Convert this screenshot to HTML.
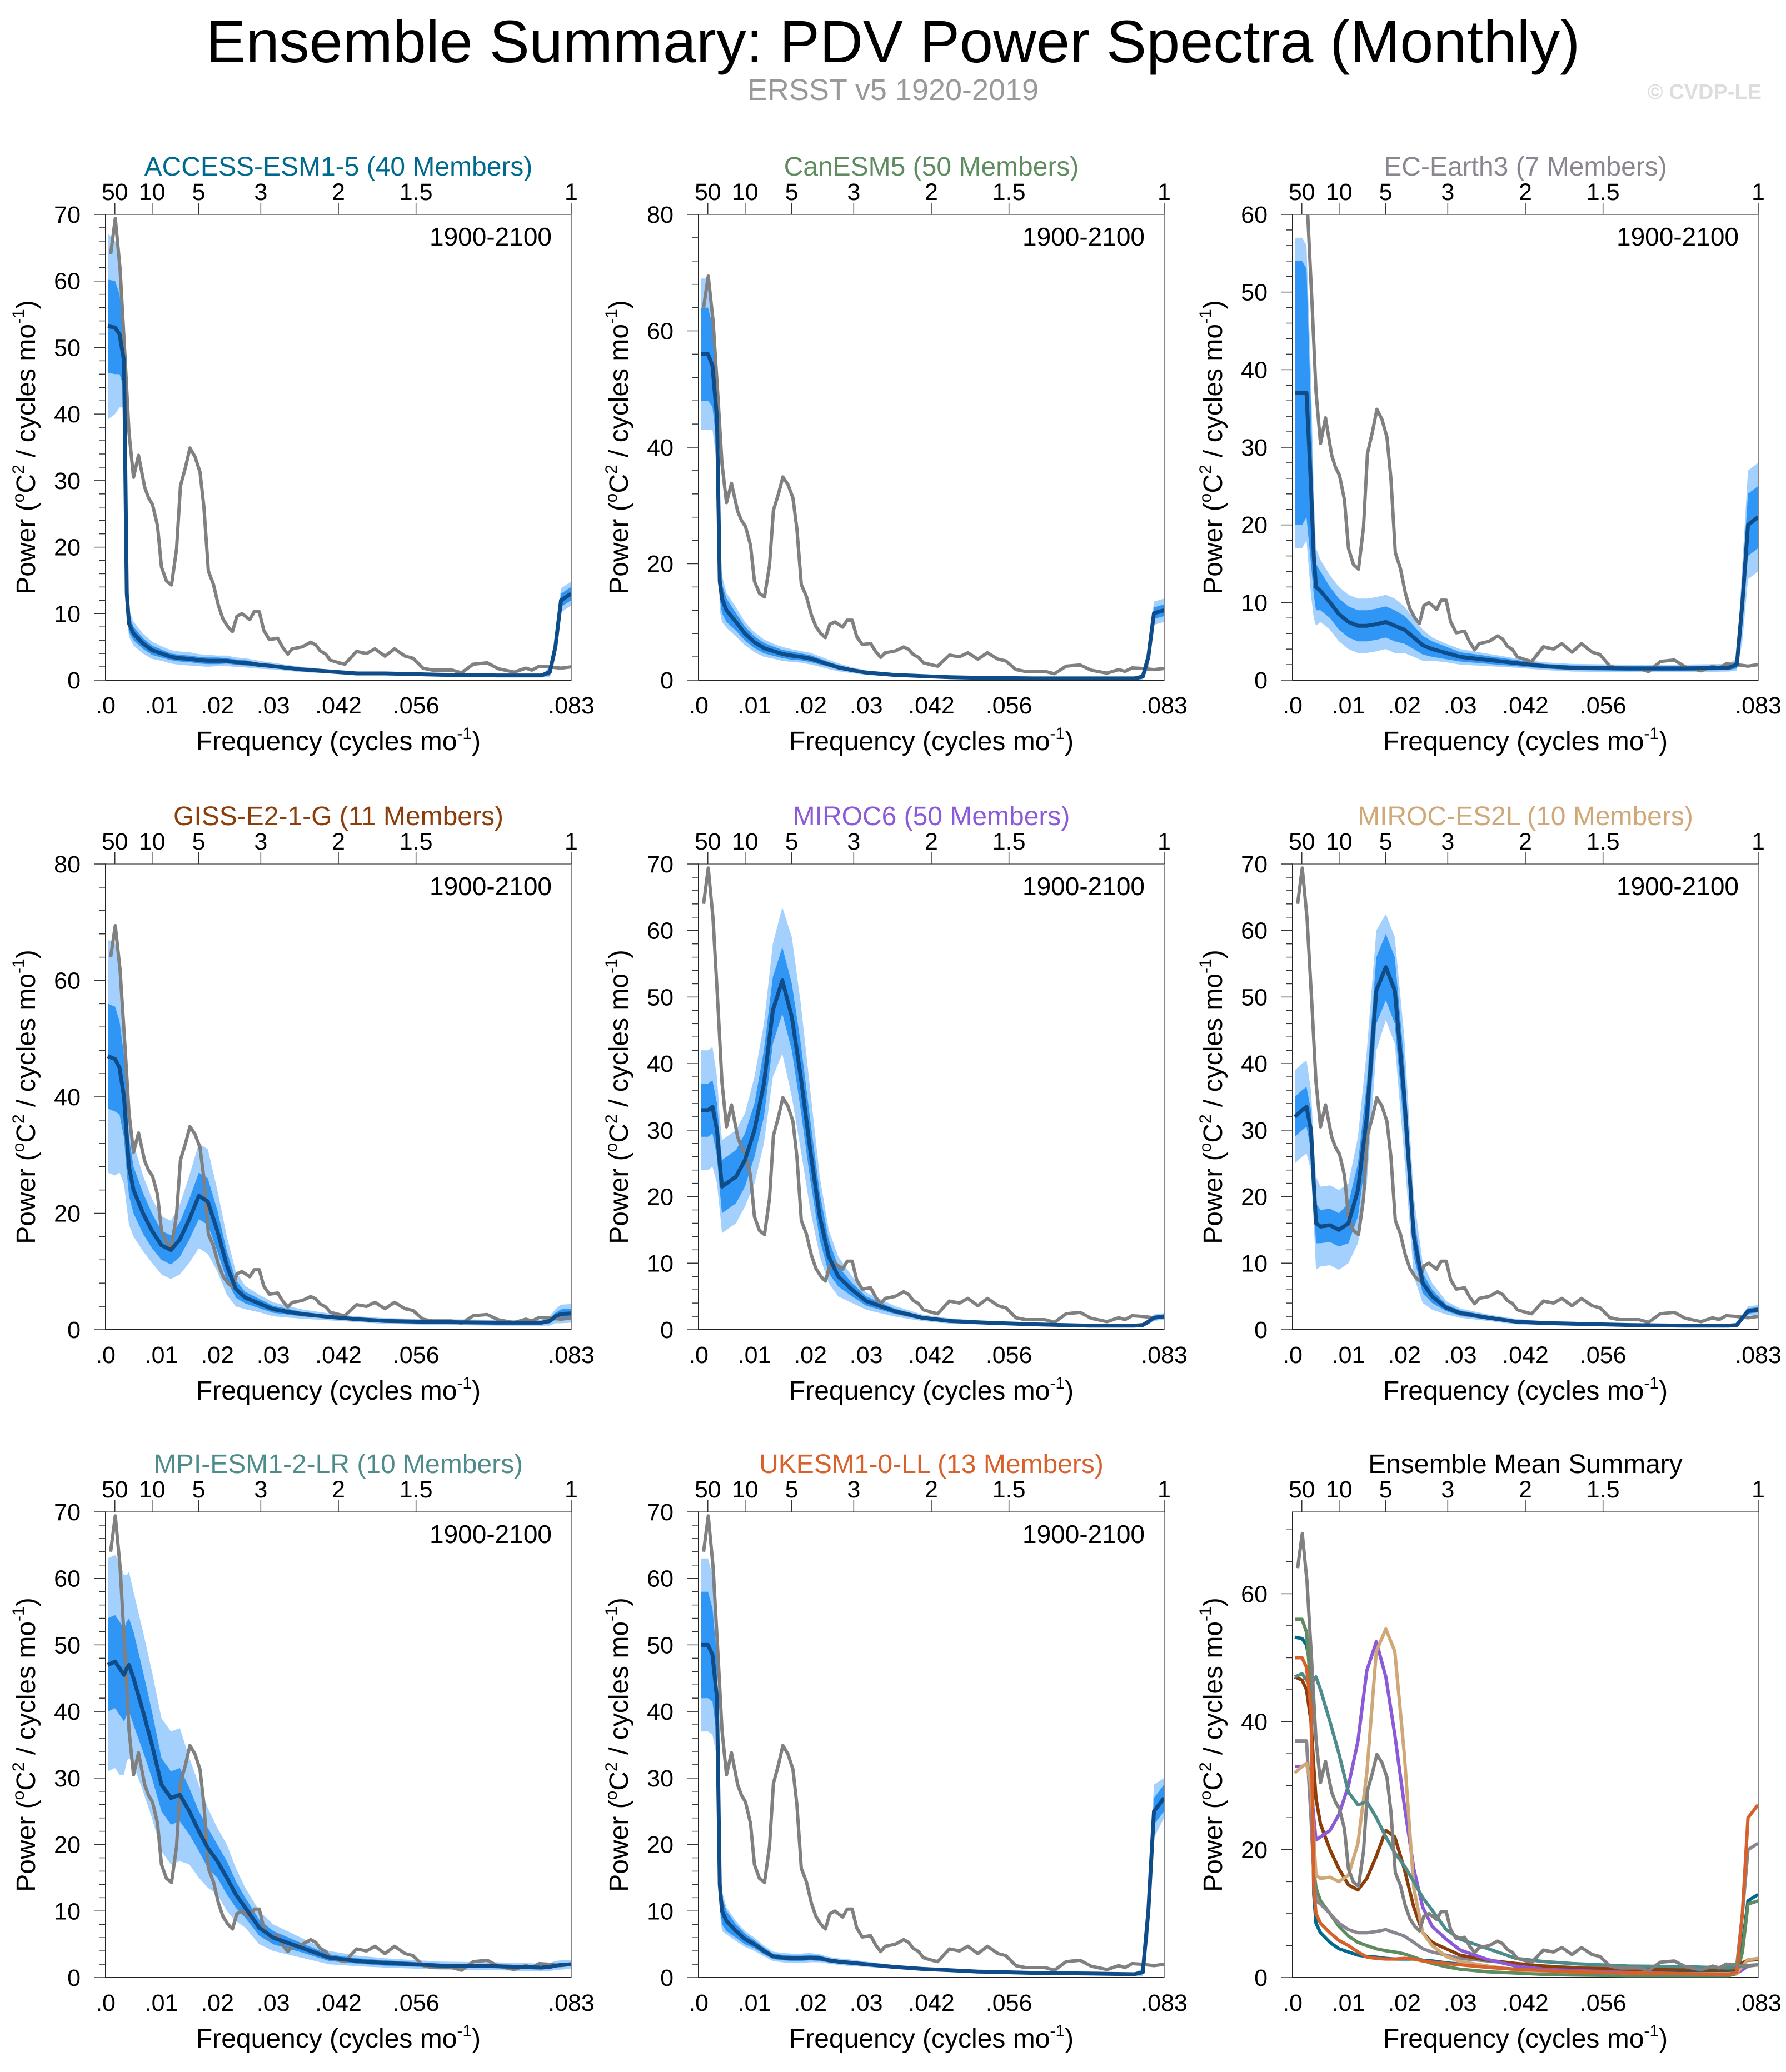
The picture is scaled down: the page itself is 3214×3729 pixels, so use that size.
<!DOCTYPE html>
<html><head><meta charset="utf-8"><style>
html,body{margin:0;padding:0;background:#fff;}
svg{display:block;font-family:"Liberation Sans",sans-serif;}
</style></head><body>
<svg id="chart" width="3214" height="3729" viewBox="0 0 3214 3729" xmlns="http://www.w3.org/2000/svg">
<rect width="3214" height="3729" fill="#fff"/>
<text x="1607" y="112" text-anchor="middle" font-size="108" fill="#000">Ensemble Summary: PDV Power Spectra (Monthly)</text>
<text x="1607" y="180" text-anchor="middle" font-size="54" fill="#999">ERSST v5 1920-2019</text>
<text x="3170" y="178" text-anchor="end" font-size="38" font-weight="bold" fill="#ddd">© CVDP-LE</text>
</svg>
<script>
const freqGrid=[0.0004,0.0017,0.0025,0.0033,0.0038,0.0042,0.005,0.0067,0.0083,0.01,0.0117,0.0133,0.015,0.0167,0.0183,0.02,0.0217,0.0233,0.025,0.0275,0.03,0.035,0.04,0.045,0.05,0.06,0.07,0.078,0.0795,0.0805,0.0815,0.0833];
const obsFreq=[0.0009,0.00174,0.0026,0.0035,0.0042,0.005,0.0059,0.007,0.0077,0.0084,0.0093,0.01,0.0109,0.0118,0.0127,0.0134,0.0143,0.0151,0.016,0.0169,0.0176,0.0184,0.0193,0.0202,0.021,0.0219,0.0227,0.0235,0.0244,0.0258,0.0266,0.0275,0.0283,0.0293,0.0308,0.0317,0.0326,0.0334,0.0352,0.0367,0.0376,0.0384,0.0394,0.0402,0.0418,0.0428,0.0449,0.0467,0.0482,0.05,0.0517,0.0536,0.055,0.0568,0.0585,0.062,0.0637,0.0658,0.0683,0.0703,0.0731,0.0752,0.0763,0.0776,0.0794,0.0815,0.0833];
const obsPower=[64,69.4,61.8,48.3,37.2,30.5,33.8,29,27.4,26.4,23.2,17,14.9,14.3,19.7,29.2,32,34.9,33.6,31.3,26,16.4,14.4,11.2,9.2,8,7.3,9.6,10,9.1,10.3,10.3,7.5,6.1,6.3,4.9,3.9,4.7,5,5.7,5.3,4.4,3.9,3,2.6,2.4,4.3,4,4.7,3.6,4.7,3.6,3.3,1.8,1.5,1.5,1.1,2.4,2.6,1.7,1.2,1.8,1.5,2.1,2,1.8,2];

const accessMean=[53.2,53,52,48,13,8.5,7,5.5,4.5,4,3.5,3.3,3.2,3,2.9,2.9,2.9,2.7,2.6,2.3,2.1,1.6,1.3,1.0,1.0,0.8,0.7,0.7,1.2,5,12,13];
const accessDark=[7,7,6,4,2,1.3,1,0.8,0.7,0.6,0.5,0.5,0.5,0.5,0.5,0.5,0.4,0.4,0.4,0.3,0.3,0.3,0.2,0.2,0.2,0.1,0.1,0.1,0.5,1,1,1];
const accessLight=[14,13,11,7,3,2,1.8,1.5,1.3,1.1,1,1,1,0.9,0.9,0.8,0.8,0.7,0.7,0.6,0.5,0.4,0.3,0.3,0.2,0.2,0.2,0.2,0.8,1.5,1.8,1.8];

const canesmMean=[56,56,54,45,17,14,12,10,8,6.5,5.5,5,4.5,4.2,4,3.7,3.2,2.7,2.2,1.7,1.3,0.9,0.7,0.5,0.4,0.3,0.3,0.3,0.6,4,11.5,12];
const canesmDark=[8,8,7,5,3,2.5,2,1.5,1.2,1,0.9,0.8,0.7,0.7,0.6,0.6,0.5,0.4,0.4,0.3,0.2,0.2,0.1,0.1,0.1,0.1,0.1,0.1,0.3,1,1,1];
const canesmLight=[13,13,11,8,5,4,3,2.5,2,1.7,1.5,1.3,1.2,1.1,1,1,0.9,0.8,0.7,0.5,0.4,0.3,0.2,0.2,0.2,0.2,0.2,0.2,0.5,2,2,2];

const ecearthMean=[37,37,37,25,16,12,11.5,10,8.5,7.5,7,7,7.2,7.5,7,6.5,5.5,4.5,4,3.5,3,2.6,2.2,1.8,1.6,1.5,1.5,1.6,2,10,20,21];
const ecearthDark=[17,17,16,10,5,3,2.5,2,2,2,2,2,2,2,2,1.8,1.5,1.2,1,0.8,0.6,0.5,0.4,0.3,0.3,0.3,0.3,0.3,0.5,3,4,4];
const ecearthLight=[20,20,19,14,8,5,4,3.5,3.5,3.5,3.5,3.5,3.5,3.5,3.5,3,2.5,2,1.5,1.2,1,0.8,0.6,0.5,0.5,0.5,0.5,0.5,0.8,5,7,7];

const gissMean=[47,46.5,45,40,33,28,24,20,17,14.5,13.7,15.5,19,23,22,17,11,7,5.5,4.5,3.5,2.7,2.2,1.8,1.5,1.3,1.2,1.2,1.5,2.3,2.7,2.8];
const gissDark=[9,9,8,7,6,5,4,3.5,3,2.5,2.5,3,3.5,4,4,3.5,2.5,1.5,1,0.8,0.6,0.4,0.3,0.3,0.3,0.3,0.3,0.3,0.4,0.6,0.8,0.8];
const gissLight=[20,20,18,15,12,10,8,6.5,5.5,5,5,6,7.5,9,9,7,5,3,2,1.5,1.2,0.8,0.6,0.5,0.5,0.5,0.5,0.5,0.8,1.2,1.6,1.6];

const miroc6Mean=[33,33,33.5,30,25,21.5,22,23,25.5,30,37,48,52.5,47,38,27,17,11,8,6,4.3,2.8,1.8,1.3,1.1,0.8,0.6,0.6,0.7,1.2,1.8,2];
const miroc6Dark=[4,4,4,4,4,4,4,4,4,4,5,5,5,5,5,4.5,3.5,2.5,1.5,1,0.7,0.4,0.3,0.2,0.2,0.1,0.1,0.1,0.1,0.2,0.3,0.3];
const miroc6Light=[9,9,9,8,7,7,7,7,7,8,9,10,11,12,11,9,6,4,3,2,1.3,0.8,0.5,0.4,0.3,0.2,0.2,0.2,0.2,0.4,0.5,0.5];

const mirocEs2lMean=[32,33,33.5,30,22,16,15.5,15.7,15,16,21,32,51,54.5,51,35,14,7,5,3.3,2.5,1.8,1.2,1,0.9,0.7,0.6,0.6,0.7,1.8,2.8,3];
const mirocEs2lDark=[3,3,3,3,3,3,2.5,2.5,2.5,3,4,5,5,5,5,5,3,1.5,1,0.5,0.4,0.3,0.2,0.2,0.2,0.1,0.1,0.1,0.1,0.3,0.4,0.4];
const mirocEs2lLight=[7,7,7,6,6,7,6,6,6,6,8,10,9,8,8,9,6,3,2,1,0.7,0.5,0.4,0.3,0.3,0.2,0.2,0.2,0.2,0.5,0.7,0.7];

const mpiMean=[47,47.5,46.5,45.5,46.5,47,45,40,35,29,27,27.5,25,22,19.5,17.5,15,12.5,10.5,7.5,6,4.5,3,2.5,2.2,1.8,1.7,1.5,1.6,1.8,1.9,2];
const mpiDark=[7,7,7,7,7,7,7,6,5,4,4,4,3.5,3,3,2.5,2.5,2,1.5,1.2,1,0.7,0.5,0.4,0.4,0.3,0.3,0.3,0.3,0.3,0.3,0.3];
const mpiLight=[16,16,16,15,14,14,13,12,11,10,10,10,8,7,6,5,5,4,3,2.5,2,1.5,1,0.8,0.7,0.6,0.6,0.6,0.6,0.7,0.7,0.7];

const ukesmMean=[50,50,48.5,42,14,10,8.5,7,5.8,5,4,3.2,3,2.9,2.9,3,2.9,2.6,2.4,2.2,2,1.6,1.3,1.1,0.9,0.7,0.6,0.5,0.8,10,25,27];
const ukesmDark=[8,8,7,6,3,2,1.5,1,0.8,0.6,0.5,0.4,0.4,0.4,0.4,0.4,0.4,0.3,0.3,0.3,0.3,0.2,0.2,0.2,0.1,0.1,0.1,0.1,0.3,2,2,2];
const ukesmLight=[13,13,12,9,4,3,2,1.5,1.2,1,0.8,0.7,0.7,0.7,0.7,0.7,0.6,0.5,0.5,0.5,0.4,0.3,0.3,0.2,0.2,0.2,0.2,0.2,0.6,4,4,3];

const xTickFreqs=[0,0.01,0.02,0.03,1/24,1/18,1/12];
const xTickLabels=[".0",".01",".02",".03",".042",".056",".083"];
const periodTicks=[50,10,5,3,2,1.5,1];

const NS="http://www.w3.org/2000/svg";
const svg=document.getElementById('chart');
function mk(tag,attrs,parent){const e=document.createElementNS(NS,tag);for(const k in attrs)e.setAttribute(k,attrs[k]);(parent||svg).appendChild(e);return e;}

const models=[
 {title:"ACCESS-ESM1-5 (40 Members)",slug:"access-esm1-5",color:"#006a8e",mean:accessMean,dark:accessDark,light:accessLight,ymax:70,major:10,minor:2,col:0,row:0},
 {title:"CanESM5 (50 Members)",slug:"canesm5",color:"#5e8c60",mean:canesmMean,dark:canesmDark,light:canesmLight,ymax:80,major:20,minor:4,col:1,row:0},
 {title:"EC-Earth3 (7 Members)",slug:"ec-earth3",color:"#8a8590",mean:ecearthMean,dark:ecearthDark,light:ecearthLight,ymax:60,major:10,minor:2,col:2,row:0},
 {title:"GISS-E2-1-G (11 Members)",slug:"giss-e2-1-g",color:"#8b3d0a",mean:gissMean,dark:gissDark,light:gissLight,ymax:80,major:20,minor:4,col:0,row:1},
 {title:"MIROC6 (50 Members)",slug:"miroc6",color:"#8a5ad8",mean:miroc6Mean,dark:miroc6Dark,light:miroc6Light,ymax:70,major:10,minor:2,col:1,row:1},
 {title:"MIROC-ES2L (10 Members)",slug:"miroc-es2l",color:"#d0a878",mean:mirocEs2lMean,dark:mirocEs2lDark,light:mirocEs2lLight,ymax:70,major:10,minor:2,col:2,row:1},
 {title:"MPI-ESM1-2-LR (10 Members)",slug:"mpi-esm1-2-lr",color:"#4e8c8c",mean:mpiMean,dark:mpiDark,light:mpiLight,ymax:70,major:10,minor:2,col:0,row:2},
 {title:"UKESM1-0-LL (13 Members)",slug:"ukesm1-0-ll",color:"#d8602a",mean:ukesmMean,dark:ukesmDark,light:ukesmLight,ymax:70,major:10,minor:2,col:1,row:2}
];
const colLeft=[190,1257,2326], rowTop=[386,1555,2721], BOX=838, XMAX=1/12;

function drawAxes(g,L,T,ymax,major,minor,title,titleColor,slug){
 const W=BOX,H=BOX;
 const sx=f=>L+f/XMAX*W, sy=v=>T+H-v/ymax*H;
 const t=mk('text',{x:L+W/2,y:T-70,'text-anchor':'middle','font-size':48,fill:titleColor},g);t.textContent=title;
 
 
 mk('rect',{x:L,y:T,width:W,height:H,fill:'none',stroke:'#888','stroke-width':2},g);
 mk('line',{x1:L,y1:T,x2:L,y2:T+H,stroke:'#222','stroke-width':2},g);
 mk('line',{x1:L,y1:T+H,x2:L+W,y2:T+H,stroke:'#222','stroke-width':2},g);
 for(let v=0;v<=ymax+1e-6;v+=minor){const isM=Math.abs(v/major-Math.round(v/major))<1e-6;
  mk('line',{x1:L-(isM?21:11),y1:sy(v),x2:L,y2:sy(v),stroke:'#333','stroke-width':1.5},g);
  if(isM){const tx=mk('text',{x:L-45,y:sy(v)+15,'text-anchor':'end','font-size':43},g);tx.textContent=String(Math.round(v));
   
   }}
 xTickFreqs.forEach((f,i)=>{const tx=mk('text',{x:sx(f),y:T+H+60,'text-anchor':'middle','font-size':43},g);tx.textContent=xTickLabels[i];
  
  });
 periodTicks.forEach(p=>{const f=1/(12*p);mk('line',{x1:sx(f),y1:T-21,x2:sx(f),y2:T,stroke:'#333','stroke-width':1.5},g);
  const tx=mk('text',{x:sx(f),y:T-26,'text-anchor':'middle','font-size':43},g);tx.textContent=String(p);
  
  });
 const xt=mk('text',{x:L+W/2,y:T+H+126,'text-anchor':'middle','font-size':48},g);
 xt.innerHTML='Frequency (cycles mo<tspan dy="-20" font-size="30">-1</tspan><tspan dy="20">)</tspan>';
 
 
 const yt=mk('text',{x:0,y:0,'text-anchor':'middle','font-size':48,transform:`translate(${L-127},${T+H/2}) rotate(-90)`},g);
 yt.innerHTML='Power (<tspan dy="-20" font-size="30">o</tspan><tspan dy="20">C</tspan><tspan dy="-20" font-size="30">2</tspan><tspan dy="20"> / cycles mo</tspan><tspan dy="-20" font-size="30">-1</tspan><tspan dy="20">)</tspan>';
 
 
 return {sx,sy};
}
function linePath(xs,ys,sx,sy){return xs.map((f,i)=>(i?'L':'M')+sx(f).toFixed(1)+','+sy(ys[i]).toFixed(1)).join('');}
function bandPath(mean,spread,sx,sy){
 const up=freqGrid.map((f,i)=>sx(f).toFixed(1)+','+sy(mean[i]+spread[i]).toFixed(1));
 const lo=freqGrid.map((f,i)=>sx(f).toFixed(1)+','+sy(Math.max(0,mean[i]-spread[i])).toFixed(1)).reverse();
 return 'M'+up.join('L')+'L'+lo.join('L')+'Z';}

models.forEach((m,idx)=>{
 const L=colLeft[m.col],T=rowTop[m.row];
 const g=mk('g',{});
 
 
 const {sx,sy}=drawAxes(g,L,T,m.ymax,m.major,m.minor,m.title,m.color,m.slug);
 const cp=mk('clipPath',{id:'clip'+idx},g);mk('rect',{x:L,y:T,width:BOX,height:BOX},cp);
 const pg=mk('g',{'clip-path':`url(#clip${idx})`},g);
 const b1=mk('path',{d:bandPath(m.mean,m.light,sx,sy),fill:'#a3d0fc'},pg);
 
 
 const b2=mk('path',{d:bandPath(m.mean,m.dark,sx,sy),fill:'#2f96f5'},pg);
 
 
 const ob=mk('path',{d:linePath(obsFreq,obsPower,sx,sy),fill:'none',stroke:'#808080','stroke-width':6,'stroke-linejoin':'round'},pg);
 
 
 const ml=mk('path',{d:linePath(freqGrid,m.mean,sx,sy),fill:'none',stroke:'#0f4c8a','stroke-width':7,'stroke-linejoin':'round'},pg);
 
 
 const yr=mk('text',{x:L+BOX-35,y:T+56,'text-anchor':'end','font-size':46},g);yr.textContent='1900-2100';
 
 
});
(function(){
 const L=colLeft[2],T=rowTop[2];
 const g=mk('g',{});
 
 
 const {sx,sy}=drawAxes(g,L,T,72.8,20,5,'Ensemble Mean Summary','#000','summary');
 const cp=mk('clipPath',{id:'clipS'},g);mk('rect',{x:L,y:T,width:BOX,height:BOX},cp);
 const pg=mk('g',{'clip-path':'url(#clipS)'},g);
 models.forEach(m=>{const p=mk('path',{d:linePath(freqGrid,m.mean,sx,sy),fill:'none',stroke:m.color,'stroke-width':6,'stroke-linejoin':'round'},pg);
  
  });
 const ob=mk('path',{d:linePath(obsFreq,obsPower,sx,sy),fill:'none',stroke:'#808080','stroke-width':6,'stroke-linejoin':'round'},pg);
 
 
})();
</script>
</body></html>
